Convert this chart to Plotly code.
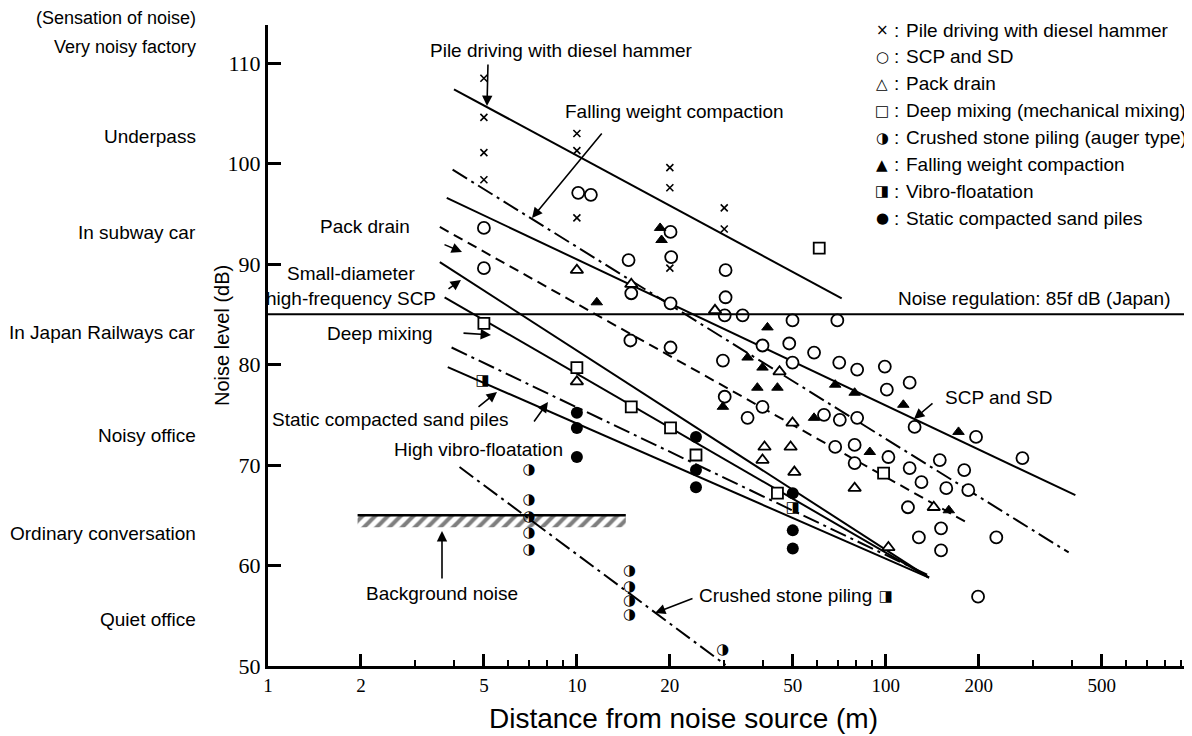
import numpy as np
import plotly.graph_objects as go

# ---------------- data (distance m, noise level dB) ----------------
PILE_X = [5, 5, 5, 5, 10, 10, 10, 20, 20, 20, 30, 30]
PILE_Y = [108.5, 104.6, 101.1, 98.4, 103.0, 101.3, 94.6, 99.6, 97.6, 89.6, 95.6, 93.5]

SCP_X = [5, 5, 10.1, 11.1, 14.7, 15.0, 20.1, 20.2, 20.1, 14.9, 20.1, 30.3, 30.3, 30.1, 34.4,
         49.9, 69.7, 39.9, 48.7, 58.6, 29.7, 49.9, 70.7, 80.8, 99.3, 100.8, 119.5, 30.1, 39.9,
         35.7, 63.1, 71.0, 80.8, 124, 68.6, 79.3, 79.3, 102, 119.5, 130.5, 118, 196, 277, 149.6,
         179.5, 157, 185, 151, 128, 228, 151, 199]
SCP_Y = [93.6, 89.6, 97.1, 96.9, 90.4, 87.1, 93.2, 90.7, 86.1, 82.4, 81.7, 89.4, 86.7, 84.9, 84.9,
         84.4, 84.4, 81.9, 82.1, 81.2, 80.4, 80.2, 80.2, 79.5, 79.8, 77.5, 78.2, 76.8, 75.8,
         74.7, 75.0, 74.5, 74.7, 73.8, 71.8, 72.0, 70.2, 70.8, 69.7, 68.3, 65.8, 72.8, 70.7, 70.5,
         69.5, 67.7, 67.5, 63.7, 62.8, 62.8, 61.5, 56.9]

PACK_X = [10, 10, 15, 28.0, 49.9, 40.5, 39.9, 49.2, 50.6, 79.3, 143, 102, 45.3]
PACK_Y = [89.4, 78.3, 88.0, 85.4, 74.2, 71.8, 70.5, 71.8, 69.3, 67.7, 65.8, 61.8, 79.3]

DEEP_X = [5.0, 10, 15.0, 20.1, 24.3, 44.6, 98.4, 60.9]
DEEP_Y = [84.1, 79.7, 75.8, 73.7, 71.0, 67.2, 69.2, 91.6]

CRUSH_X = [7, 7, 7, 7, 7, 14.8, 14.8, 14.8, 14.8, 29.7]
CRUSH_Y = [69.5, 66.5, 64.8, 63.2, 61.5, 59.4, 57.8, 56.4, 55.1, 51.6]

FALL_X = [18.6, 18.8, 11.6, 41.4, 35.7, 39.9, 38.4, 44.6, 68.6, 79.3, 114, 29.7, 58.6, 88.8, 172, 160]
FALL_Y = [93.6, 92.4, 86.2, 83.7, 80.7, 79.7, 77.7, 77.7, 78.0, 77.2, 76.0, 75.8, 74.7, 71.3, 73.3, 65.5]

VIBRO_X = [4.95, 50, 100]
VIBRO_Y = [78.3, 65.7, 56.8]

STATIC_X = [10, 10, 10, 24.3, 24.3, 24.3, 50, 50, 50]
STATIC_Y = [75.2, 73.7, 70.8, 72.8, 69.5, 67.8, 67.2, 63.5, 61.7]

# trend lines: [start, end]
PILE_LINE_X, PILE_LINE_Y = [4.0, 72], [107.4, 86.6]
FALL_LINE_X, FALL_LINE_Y = [3.96, 391], [99.4, 61.3]
SCP_LINE_X, SCP_LINE_Y = [3.79, 411], [96.6, 67.0]
PACK_LINE_X, PACK_LINE_Y = [3.6, 185], [93.7, 64.2]
SMALL_LINE_X, SMALL_LINE_Y = [3.6, 138], [90.2, 58.8]
DEEPL_X, DEEPL_Y = [3.73, 138], [86.7, 58.8]
VIBL_X, VIBL_Y = [3.93, 138], [81.7, 59.0]
STATL_X, STATL_Y = [3.82, 138], [79.75, 58.8]
CRUSHL_X, CRUSHL_Y = [4.17, 30.3], [69.8, 50.1]

BACKGROUND_X = [1.95, 14.4]
BACKGROUND_DB = 65
REGULATION_DB = 85

X_TICKS = [1, 2, 5, 10, 20, 50, 100, 200, 500]
X_MINOR = [3, 4, 6, 7, 8, 9, 30, 40, 60, 70, 80, 90, 300, 400, 600, 700, 800, 900]
Y_TICKS = [50, 60, 70, 80, 90, 100, 110]
Y_RANGE = [50, 113.8]

SENSATION_DB = [114.5, 111.6, 102.7, 93.1, 83.2, 72.9, 63.2, 54.6]
SENSATION = ["(Sensation of noise)", "Very noisy factory", "Underpass", "In subway car",
             "In Japan Railways car", "Noisy office", "Ordinary conversation", "Quiet office"]
SENSATION_SIZE = [18, 18, 19, 19, 19, 19, 19, 19]

LEGEND = [("×", "Pile driving with diesel hammer"), ("○", "SCP and SD"), ("△", "Pack drain"),
          ("□", "Deep mixing (mechanical mixing)"), ("◑", "Crushed stone piling (auger type)"),
          ("▲", "Falling weight compaction"), ("◨", "Vibro-floatation"),
          ("●", "Static compacted sand piles")]

# ---------------- layout helpers ----------------
# page body has an 8px margin: figure is drawn at (8, 8) in the window
OFF = 8
W, H = 1192 - OFF, 736 - OFF
AX_L, AX_R, AX_T, AX_B = 268, 1190, 25, 666  # plot area in window pixels
PW, PH = AX_R - AX_L, AX_B - AX_T
SANS = "Liberation Sans, Arial, sans-serif"
SERIF = "Liberation Serif, Times New Roman, serif"
FS = 19
DASH = "10px,6px"
DASHDOT = "17px,5px,3px,5px"


def pp(px, py):
    return (px - AX_L) / PW, (AX_B - py) / PH


fig = go.Figure()

# hatch under background noise
fig.add_trace(go.Scatter(x=[BACKGROUND_X[0], BACKGROUND_X[1], BACKGROUND_X[1], BACKGROUND_X[0]],
                         y=[BACKGROUND_DB, BACKGROUND_DB, BACKGROUND_DB - 1.2, BACKGROUND_DB - 1.2],
                         fill="toself", mode="none",
                         fillpattern=dict(shape="/", size=9, solidity=0.45, fgcolor="black",
                                          bgcolor="rgba(0,0,0,0)"),
                         fillcolor="rgba(0,0,0,0)", hoverinfo="skip", showlegend=False))
fig.add_trace(go.Scatter(x=BACKGROUND_X, y=[BACKGROUND_DB] * 2, mode="lines",
                         line=dict(color="black", width=2.5), showlegend=False))

lines = [
    (PILE_LINE_X, PILE_LINE_Y, "solid"),
    (FALL_LINE_X, FALL_LINE_Y, DASHDOT),
    (SCP_LINE_X, SCP_LINE_Y, "solid"),
    (PACK_LINE_X, PACK_LINE_Y, DASH),
    (SMALL_LINE_X, SMALL_LINE_Y, "solid"),
    (DEEPL_X, DEEPL_Y, "solid"),
    (VIBL_X, VIBL_Y, DASHDOT),
    (STATL_X, STATL_Y, "solid"),
    (CRUSHL_X, CRUSHL_Y, DASHDOT),
]
for lx, ly, dash in lines:
    fig.add_trace(go.Scatter(x=lx, y=ly, mode="lines", line=dict(color="black", width=2, dash=dash),
                             showlegend=False, hoverinfo="skip"))

fig.add_trace(go.Scatter(x=PILE_X, y=PILE_Y, mode="markers", showlegend=False,
                         marker=dict(symbol="x-thin", size=7, line=dict(color="black", width=1.6))))
fig.add_trace(go.Scatter(x=SCP_X, y=SCP_Y, mode="markers", showlegend=False,
                         marker=dict(symbol="circle", size=12, color="white",
                                     line=dict(color="black", width=1.8))))
fig.add_trace(go.Scatter(x=PACK_X, y=PACK_Y, mode="markers", showlegend=False,
                         marker=dict(symbol="triangle-up", size=11, color="white",
                                     line=dict(color="black", width=1.8))))
fig.add_trace(go.Scatter(x=DEEP_X, y=DEEP_Y, mode="markers", showlegend=False,
                         marker=dict(symbol="square", size=11, color="white",
                                     line=dict(color="black", width=1.8))))
fig.add_trace(go.Scatter(x=FALL_X, y=FALL_Y, mode="markers", showlegend=False,
                         marker=dict(symbol="triangle-up", size=10, color="black",
                                     line=dict(color="black", width=1))))
fig.add_trace(go.Scatter(x=STATIC_X, y=STATIC_Y, mode="markers", showlegend=False,
                         marker=dict(symbol="circle", size=12, color="black")))
fig.add_trace(go.Scatter(x=CRUSH_X, y=CRUSH_Y, mode="text", text=["◑"] * len(CRUSH_X),
                         textposition="middle center", showlegend=False,
                         textfont=dict(family="DejaVu Sans", size=15, color="black")))
fig.add_trace(go.Scatter(x=VIBRO_X, y=VIBRO_Y, mode="text", text=["◨"] * len(VIBRO_X),
                         textposition="middle center", showlegend=False,
                         textfont=dict(family="DejaVu Sans", size=15, color="black")))

# noise regulation line
fig.add_shape(type="line", xref="paper", x0=0, x1=1, yref="y", y0=REGULATION_DB, y1=REGULATION_DB,
              line=dict(color="black", width=2))

ann = []


def text(px, py, s, anchor="left", size=FS, family=SANS, angle=0, yanchor="middle"):
    x, y = pp(px, py)
    ann.append(dict(x=x, y=y, xref="paper", yref="paper", text=s, showarrow=False,
                    xanchor=anchor, yanchor=yanchor, textangle=angle,
                    font=dict(family=family, size=size, color="black")))


def arrow(tx, ty, hx, hy):
    x, y = pp(hx, hy)
    ann.append(dict(x=x, y=y, xref="paper", yref="paper", text="", showarrow=True,
                    ax=tx - hx, ay=ty - hy, arrowhead=2, arrowsize=1.3, arrowwidth=1.6,
                    arrowcolor="black", standoff=0, startstandoff=0))


text(428, 50, "Pile driving with diesel hammer")
arrow(488, 63, 487, 106)
text(563, 112, "Falling weight compaction")
arrow(603, 132, 532, 218)
text(412, 226, "Pack drain", anchor="right")
arrow(443, 244, 462, 252)
text(351, 273, "Small-diameter", anchor="center")
text(351, 299, "high-frequency SCP", anchor="center")
arrow(447, 290, 461, 280)
text(435, 333, "Deep mixing", anchor="right")
arrow(462, 333, 491, 335)
text(270, 419, "Static compacted sand piles")
arrow(477, 408, 497, 392)
text(392, 450, "High vibro-floatation")
arrow(533, 423, 548, 402)
text(442, 593, "Background noise", anchor="center")
arrow(442, 580, 442, 531)
text(697, 595, "Crushed stone piling")
arrow(694, 598, 655, 613)
text(943, 397, "SCP and SD")
arrow(934, 402, 914, 419)
text(1173, 298, "Noise regulation: 85f dB (Japan)", anchor="right")

# legend
for i, (g, s) in enumerate(LEGEND):
    yy = 30 + i * 26.9
    text(882, yy, g, anchor="center", size=15, family="DejaVu Sans")
    text(896, yy, ":", anchor="center")
    text(904, yy, s)

# sensation labels (left of axis)
for db, s, fs in zip(SENSATION_DB, SENSATION, SENSATION_SIZE):
    py = AX_B - (db - Y_RANGE[0]) * PH / (Y_RANGE[1] - Y_RANGE[0])
    text(198, py, s, anchor="right", size=fs)

# axis titles
text(222, 336, "Noise level (dB)", anchor="center", size=20, angle=-90)
text(683, 736, "Distance from noise source (m)", anchor="center", size=28, yanchor="bottom")

fig.update_layout(
    width=W, height=H, autosize=False,
    margin=dict(l=AX_L - OFF, r=W - (AX_R - OFF), t=AX_T - OFF, b=H - (AX_B - OFF)),
    paper_bgcolor="white", plot_bgcolor="white",
    showlegend=False, annotations=ann,
    xaxis=dict(type="log", range=[0, 2.985], showgrid=False, zeroline=False,
               showline=True, linecolor="black", linewidth=3,
               ticks="inside", ticklen=12, tickwidth=3, tickcolor="black",
               tickvals=X_TICKS, ticktext=[str(v) for v in X_TICKS],
               tickfont=dict(family=SERIF, size=19, color="black"),
               minor=dict(tickvals=X_MINOR, ticks="inside", ticklen=6, tickwidth=2,
                          tickcolor="black", showgrid=False)),
    yaxis=dict(range=Y_RANGE, showgrid=False, zeroline=False,
               showline=True, linecolor="black", linewidth=3,
               ticks="inside", ticklen=13, tickwidth=3, tickcolor="black",
               tickvals=Y_TICKS, tickfont=dict(family=SERIF, size=22, color="black")),
)

fig.write_html("out.html")
